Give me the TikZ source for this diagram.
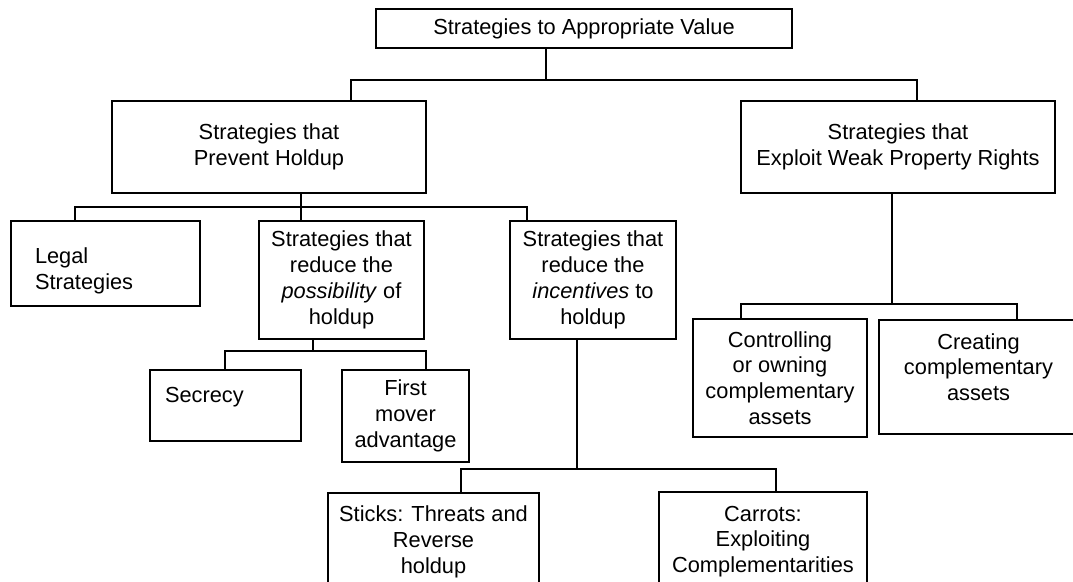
\documentclass[tikz,border=0pt]{standalone}
\usepackage{fontspec}
\setmainfont{Liberation Sans}

\tikzset{
	box/.style={draw, rectangle, align=center, inner sep=0pt, font=\fontsize{10.9}{12.9}\selectfont},
	leftbox/.style={box, align=left, inner ysep=0pt},
}

\begin{document}
\begin{tikzpicture}[x=0.5pt, y=-0.5pt, line width=0.6pt]
	
	\useasboundingbox (0,0) rectangle (1073,582);
	
	% level 0 and 1
	\node[box, minimum width=208pt, minimum height=19.5pt] (top) at (584,28.5) {Strategies to Appropriate Value};
	\node[box, minimum width=157pt, minimum height=46pt] (prevent) at (269,147) {Strategies that\\Prevent Holdup};
	\node[box, minimum width=157pt, minimum height=46pt] (exploit) at (898,147) {Strategies that\\Exploit Weak Property Rights};
	
	% below prevent
	\node[leftbox, inner xsep=12pt, text width=70.5pt, minimum height=42.5pt] (legal) at (105.5,263.5) {\rule{0pt}{15.3pt}Legal\\Strategies};
	\node[box, minimum width=82.5pt, minimum height=59pt] (possib) at (341.5,280) {Strategies that\\reduce the\\\textit{possibility} of\\holdup};
	\node[box, minimum width=83pt, minimum height=59pt] (incent) at (593,280) {Strategies that\\reduce the\\\textit{incentives} to\\holdup};
	
	\node[leftbox, inner xsep=7.5pt, text width=60.5pt, text height=16.5pt, text depth=19pt] (secrecy) at (225.5,405.5) {Secrecy};
	\node[box, minimum width=63.5pt, minimum height=46pt] (first) at (405.5,416) {First\\mover\\advantage};
	
	\node[box, minimum width=105.5pt, minimum height=49pt] (sticks) at (433.5,542) {Sticks: Threats and\\Reverse\\holdup};
	\node[box, minimum width=104pt, minimum height=49.5pt] (carrots) at (763,541.5) {Carrots:\\Exploiting\\Complementarities};
	
	% below exploit
	\node[box, minimum width=87pt, minimum height=59pt] (control) at (780,378) {Controlling\\or owning\\complementary\\assets};
	\node[box, minimum width=99.5pt, minimum height=57pt] (creating) at (978.5,377) {Creating\\complementary\\assets\rule[-10pt]{0pt}{10pt}};
	
	% connectors
	\coordinate (a0) at (546,80);
	\coordinate (a1) at (351,80);
	\coordinate (a2) at (917,80);
	\draw (top.south -| a0) -- (a0);
	\draw (prevent.north -| a1) |- (a2) -- (a2 |- exploit.north);
	
	\coordinate (b0) at (301,207);
	\coordinate (b1) at (75,207);
	\coordinate (b2) at (527,207);
	\draw (prevent.south -| b0) -- (possib.north -| b0);
	\draw (legal.north -| b1) |- (b2) -- (b2 |- incent.north);
	
	\coordinate (c0) at (313,351);
	\coordinate (c1) at (225,351);
	\coordinate (c2) at (426,351);
	\draw (possib.south -| c0) -- (c0);
	\draw (secrecy.north -| c1) |- (c2) -- (c2 |- first.north);
	
	\coordinate (d0) at (577,469);
	\coordinate (d1) at (461,469);
	\coordinate (d2) at (776,469);
	\draw (incent.south -| d0) -- (d0);
	\draw (sticks.north -| d1) |- (d2) -- (d2 |- carrots.north);
	
	\coordinate (e0) at (892,304);
	\coordinate (e1) at (741,304);
	\coordinate (e2) at (1017,304);
	\draw (exploit.south -| e0) -- (e0);
	\draw (control.north -| e1) |- (e2) -- (e2 |- creating.north);
	
\end{tikzpicture}
\end{document}
